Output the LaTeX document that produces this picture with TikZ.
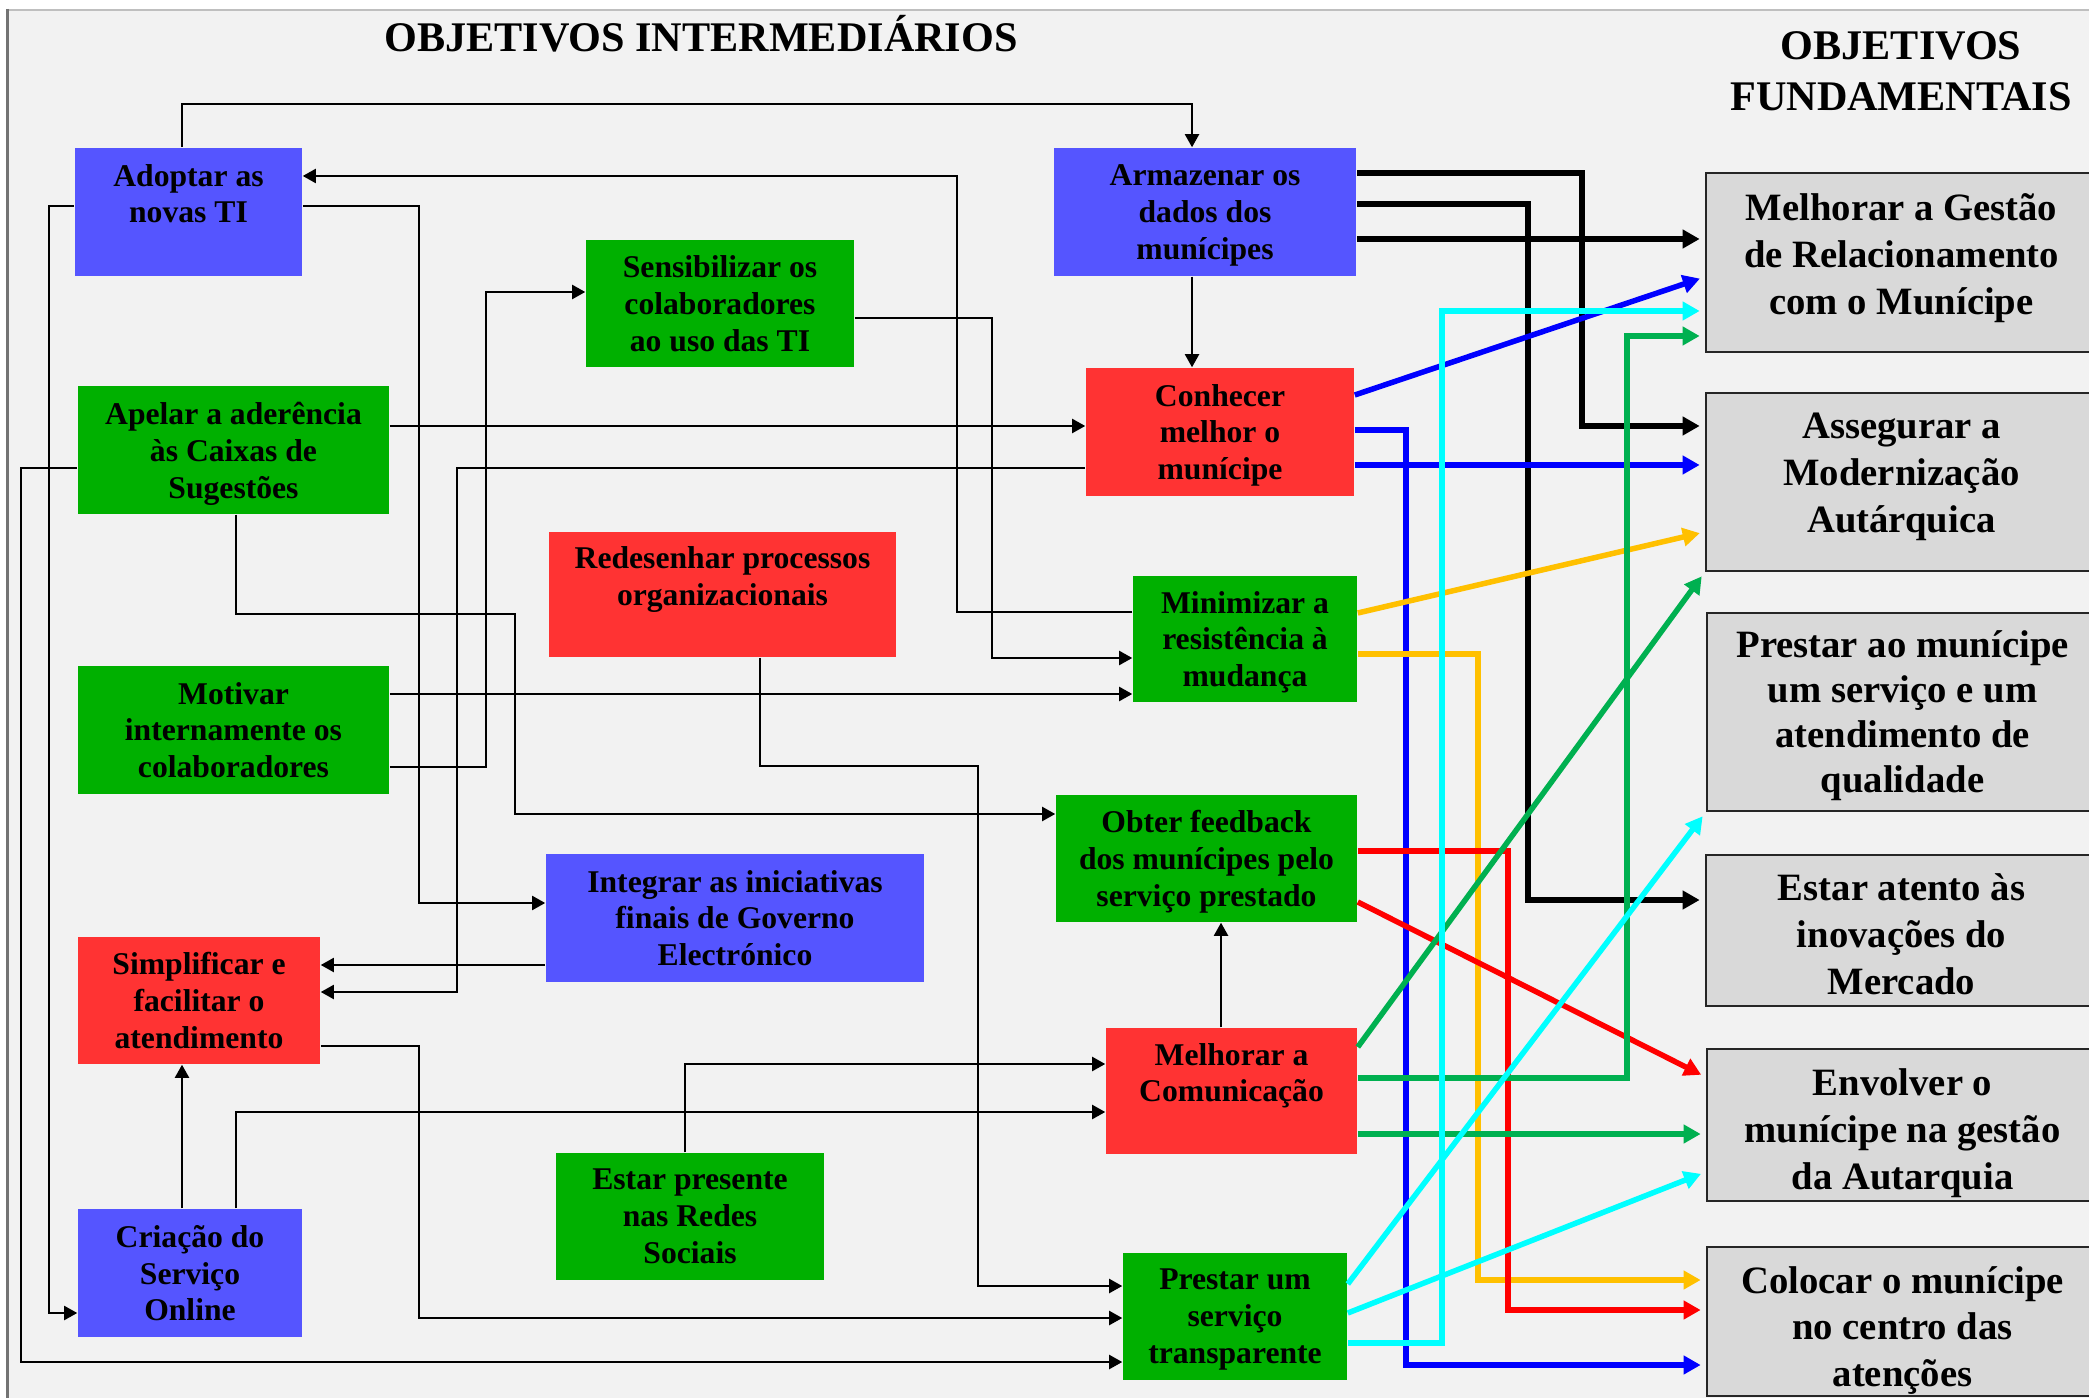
\documentclass[tikz,border=0pt]{standalone}
\usepackage{fontspec}
\setmainfont{Liberation Serif}
\usetikzlibrary{arrows.meta}
\usepackage{xcolor}
\definecolor{bgcol}{HTML}{F2F2F2}
\definecolor{tiblue}{HTML}{5555FF}
\definecolor{orggreen}{HTML}{00B000}
\definecolor{clired}{HTML}{FF3333}
\definecolor{fundgray}{HTML}{D9D9D9}
\definecolor{lgreen}{HTML}{00B050}
\definecolor{lyellow}{HTML}{FFC000}
\definecolor{lcyan}{HTML}{00FFFF}
\definecolor{lblue}{HTML}{0000FF}
\definecolor{lred}{HTML}{FF0000}

\begin{document}
\begin{tikzpicture}[
    x=0.01cm, y=-0.01cm,
    every node/.style={font=\bfseries\fontsize{9}{10.5}\selectfont, align=center, inner sep=0pt},
    objbox/.style={text depth=0pt},
    bluebox/.style={objbox, fill=tiblue},
    greenbox/.style={objbox, fill=orggreen},
    redbox/.style={objbox, fill=clired},
    fundbox/.style={fill=fundgray, draw=black!85, line width=0.025cm, minimum width=3.91cm},
    fundtext/.style={font=\bfseries\fontsize{11}{13.3}\selectfont},
    titlefont/.style={font=\bfseries\fontsize{12}{14.4}\selectfont},
    link/.style={line width=0.02cm, -{Triangle[length=0.13cm,width=0.14cm]}},
    mainlink/.style={line width=0.055cm, -{Triangle[length=0.17cm,width=0.18cm]}, shorten >=0.05cm}
]
\useasboundingbox (0,0) rectangle (2089,1398);
\clip (0,0) rectangle (2089,1398);

% Background
\fill[white] (0,0) rectangle (2089,1398);
\fill[bgcol] (6,9) rectangle (2089,1398);
\draw[black!25, line width=0.02cm] (6,10) -- (2089,10);
\draw[black!55, line width=0.03cm] (7.5,9) -- (7.5,1398);

% Titles
\node[titlefont, anchor=base] (titint) at (701,52) {OBJETIVOS INTERMEDIÁRIOS};
\node[titlefont] (titfund) at (1901,71) {OBJETIVOS\\FUNDAMENTAIS};

% Intermediate objectives, left part
\node[bluebox, minimum width=2.27cm, minimum height=1.28cm] (adopt) at (188.5,212) {Adoptar as\\novas TI\\\mbox{}};
\node[greenbox, minimum width=2.68cm, minimum height=1.27cm] (sensib) at (720,303.5) {Sensibilizar os\\colaboradores\\ao uso das TI};
\node[greenbox, minimum width=3.11cm, minimum height=1.28cm] (apelar) at (233.5,450) {Apelar a aderência\\às Caixas de\\Sugestões};
\node[redbox, minimum width=3.47cm, minimum height=1.25cm] (redes) at (722.5,594.5) {Redesenhar processos\\organizacionais\\\mbox{}};
\node[greenbox, minimum width=3.11cm, minimum height=1.28cm] (motiv) at (233.5,730) {Motivar\\internamente os\\colaboradores};
\node[bluebox, minimum width=3.78cm, minimum height=1.28cm] (integ) at (735,918) {Integrar as iniciativas\\finais de Governo\\Electrónico};
\node[redbox, minimum width=2.42cm, minimum height=1.27cm] (simpl) at (199,1000.5) {Simplificar e\\facilitar o\\atendimento};
\node[bluebox, minimum width=2.24cm, minimum height=1.28cm] (criacao) at (190,1273) {Criação do\\Serviço\\Online};
\node[greenbox, minimum width=2.68cm, minimum height=1.27cm] (estar) at (690,1216.5) {Estar presente\\nas Redes\\Sociais};

% Intermediate objectives, middle column
\node[bluebox, minimum width=3.02cm, minimum height=1.28cm] (armaz) at (1205,212) {Armazenar os\\dados dos\\munícipes};
\node[redbox, minimum width=2.68cm, minimum height=1.28cm] (conhec) at (1220,432) {Conhecer\\melhor o\\munícipe};
\node[greenbox, minimum width=2.24cm, minimum height=1.26cm] (minim) at (1245,639) {Minimizar a\\resistência à\\mudança};
\node[greenbox, minimum width=3.01cm, minimum height=1.27cm] (obter) at (1206.5,858.5) {Obter feedback\\dos munícipes pelo\\serviço prestado};
\node[redbox, minimum width=2.51cm, minimum height=1.26cm] (comunic) at (1231.5,1091) {Melhorar a\\Comunicação\\\mbox{}};
\node[greenbox, minimum width=2.24cm, minimum height=1.27cm] (prestar) at (1235,1316.5) {Prestar um\\serviço\\transparente};

% Fundamental objectives
\node[fundbox, minimum height=1.79cm, label={[fundtext, yshift=0.045cm]center:{Melhorar a Gestão\\de Relacionamento\\com o Munícipe}}] (gestao) at (1901.5,262.5) {};
\node[fundbox, minimum height=1.78cm, label={[fundtext, yshift=0.05cm]center:{Assegurar a\\Modernização\\Autárquica}}] (moder) at (1901.5,482) {};
\node[fundbox, minimum height=1.98cm, label={[fundtext, yshift=-0.04cm, font=\bfseries\fontsize{11}{12.8}\selectfont]center:{Prestar ao munícipe\\um serviço e um\\atendimento de\\qualidade}}] (qualid) at (1902.5,712) {};
\node[fundbox, minimum height=1.51cm, label={[fundtext, yshift=-0.035cm]center:{Estar atento às\\inovações do\\Mercado}}] (inov) at (1901.5,930.5) {};
\node[fundbox, minimum height=1.52cm, label={[fundtext, yshift=-0.08cm]center:{Envolver o\\munícipe na gestão\\da Autarquia}}] (envolv) at (1902.5,1125) {};
\node[fundbox, minimum height=1.49cm, label={[fundtext, yshift=-0.09cm]center:{Colocar o munícipe\\no centro das\\atenções}}] (centro) at (1902.5,1321.5) {};

% Thin connectors
\draw[link] (adopt.north -| 182,0) -- (182,104) -| (armaz.north -| 1192,0);
\draw[link] (minim.west |- 0,612) -| (957,176) -- (adopt.east |- 0,176);
\draw[link] (sensib.east |- 0,318) -| (992,658) -- (minim.west |- 0,658);
\draw[link] (adopt.east |- 0,206) -| (419,903) -- (integ.west |- 0,903);
\draw[link] (adopt.west |- 0,206) -| (49,1313) -- (criacao.west |- 0,1313);
\draw[link] (apelar.west |- 0,468) -| (21,1362) -- (prestar.west |- 0,1362);
\draw[link] (apelar.east |- 0,426) -- (conhec.west |- 0,426);
\draw[link] (conhec.west |- 0,468) -| (457,992) -- (simpl.east |- 0,992);
\draw[link] (integ.west |- 0,965) -- (simpl.east |- 0,965);
\draw[link] (motiv.east |- 0,694) -- (minim.west |- 0,694);
\draw[link] (motiv.east |- 0,767) -| (486,292) -- (sensib.west |- 0,292);
\draw[link] (apelar.south -| 236,0) |- (515,614) |- (obter.west |- 0,814);
\draw[link] (redes.south -| 760,0) |- (978,766) |- (prestar.west |- 0,1286);
\draw[link] (simpl.east |- 0,1046) -| (419,1318) -- (prestar.west |- 0,1318);
\draw[link] (criacao.north -| 182,0) -- (simpl.south -| 182,0);
\draw[link] (criacao.north -| 236,0) |- (comunic.west |- 0,1112);
\draw[link] (estar.north -| 685,0) |- (comunic.west |- 0,1064);
\draw[link] (comunic.north -| 1221,0) -- (obter.south -| 1221,0);
\draw[link] (armaz.south -| 1192,0) -- (conhec.north -| 1192,0);

% Thick connectors to the fundamental objectives
\draw[mainlink] (armaz.east |- 0,173) -| (1582,426) -- (moder.west |- 0,426);
\draw[mainlink] (armaz.east |- 0,204) -| (1528,900) -- (inov.west |- 0,900);
\draw[mainlink] (armaz.east |- 0,239) -- (gestao.west |- 0,239);

\draw[mainlink, lblue] (conhec.east |- 0,395) -- (gestao.west |- 0,277);
\draw[mainlink, lblue] (conhec.east |- 0,430) -| (1406,1365) -- (centro.west |- 0,1365);
\draw[mainlink, lblue] (conhec.east |- 0,465) -- (moder.west |- 0,465);

\draw[mainlink, lyellow] (minim.east |- 0,613) -- (moder.west |- 0,532);
\draw[mainlink, lyellow] (minim.east |- 0,654) -| (1478,1280) -- (centro.west |- 0,1280);

\draw[mainlink, lred] (obter.east |- 0,851) -| (1508,1310) -- (centro.west |- 0,1310);
\draw[mainlink, lred] (obter.east |- 0,902) -- (envolv.west |- 0,1077);

\draw[mainlink, lgreen] (comunic.east |- 0,1047) -- (moder.south west);
\draw[mainlink, lgreen] (comunic.east |- 0,1078) -| (1627,336) -- (gestao.west |- 0,336);
\draw[mainlink, lgreen] (comunic.east |- 0,1134) -- (envolv.west |- 0,1134);

\draw[mainlink, lcyan] (prestar.east |- 0,1343) -| (1442,311) -- (gestao.west |- 0,311);
\draw[mainlink, lcyan] (prestar.east |- 0,1284) -- (qualid.south west);
\draw[mainlink, lcyan] (prestar.east |- 0,1313) -- (envolv.west |- 0,1172);
\end{tikzpicture}
\end{document}
